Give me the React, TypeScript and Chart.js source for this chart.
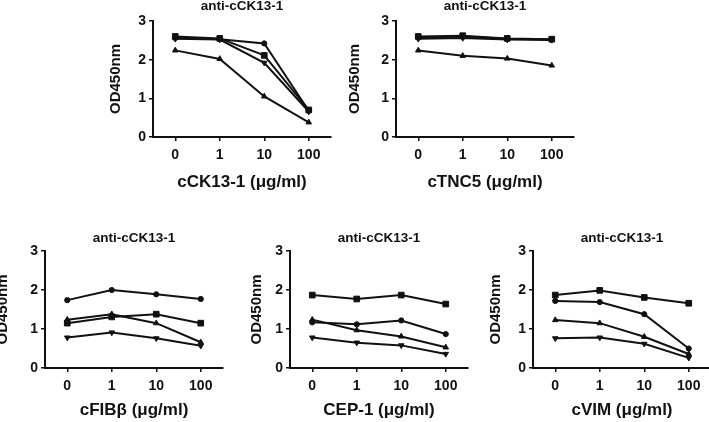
import React, { useEffect, useRef } from "react";
import { Chart, registerables } from "chart.js";
Chart.register(...registerables);

const categories = ["0", "1", "10", "100"];
const panelTitle = "anti-cCK13-1";
const yAxisTitle = "OD450nm";

// Panel 1: cCK13-1
const cck13Square = [2.6, 2.55, 2.11, 0.7];
const cck13Circle = [2.56, 2.53, 2.42, 0.68];
const cck13Down = [2.54, 2.52, 1.92, 0.66];
const cck13Up = [2.24, 2.02, 1.05, 0.38];

// Panel 2: cTNC5
const tnc5Square = [2.6, 2.62, 2.55, 2.53];
const tnc5Circle = [2.57, 2.6, 2.54, 2.52];
const tnc5Down = [2.54, 2.56, 2.52, 2.51];
const tnc5Up = [2.24, 2.1, 2.03, 1.85];

// Panel 3: cFIBβ
const fibCircle = [1.74, 2.0, 1.89, 1.77];
const fibSquare = [1.15, 1.31, 1.38, 1.15];
const fibUp = [1.24, 1.38, 1.15, 0.66];
const fibDown = [0.78, 0.91, 0.76, 0.57];

// Panel 4: CEP-1
const cepSquare = [1.87, 1.77, 1.87, 1.64];
const cepCircle = [1.17, 1.12, 1.22, 0.87];
const cepUp = [1.24, 0.97, 0.81, 0.53];
const cepDown = [0.78, 0.65, 0.58, 0.36];

// Panel 5: cVIM
const vimSquare = [1.87, 1.99, 1.81, 1.66];
const vimCircle = [1.72, 1.69, 1.38, 0.5];
const vimUp = [1.23, 1.15, 0.8, 0.36];
const vimDown = [0.76, 0.78, 0.62, 0.26];

const xTitles = ["cCK13-1 (μg/ml)", "cTNC5 (μg/ml)", "cFIBβ (μg/ml)", "CEP-1 (μg/ml)", "cVIM (μg/ml)"];

type Series = { data: number[]; style: string; rot?: number; r?: number };

const SQ = { style: "rect", r: 4 };
const CI = { style: "circle", r: 2.6 };
const UP = { style: "triangle", r: 3.2 };
const DN = { style: "triangle", r: 3.2, rot: 180 };

const panels = [
  { axisX: 153, chartTop: 21, chartH: 116, W: 46, xH: 56, titleGap: 14.5, xTitle: xTitles[0],
    series: [
      { data: cck13Square, ...SQ },
      { data: cck13Circle, ...CI },
      { data: cck13Down, ...DN },
      { data: cck13Up, ...UP },
    ] as Series[] },
  { axisX: 396, chartTop: 21, chartH: 116, W: 50, xH: 56, titleGap: 14.5, xTitle: xTitles[1],
    series: [
      { data: tnc5Square, ...SQ },
      { data: tnc5Circle, ...CI },
      { data: tnc5Down, ...DN },
      { data: tnc5Up, ...UP },
    ] as Series[] },
  { axisX: 45, chartTop: 251, chartH: 117, W: 51, xH: 53, titleGap: 12.5, xTitle: xTitles[2],
    series: [
      { data: fibCircle, ...CI },
      { data: fibSquare, ...SQ },
      { data: fibUp, ...UP },
      { data: fibDown, ...DN },
    ] as Series[] },
  { axisX: 290, chartTop: 251, chartH: 117, W: 42, xH: 53, titleGap: 12.5, xTitle: xTitles[3],
    series: [
      { data: cepSquare, ...SQ },
      { data: cepCircle, ...CI },
      { data: cepUp, ...UP },
      { data: cepDown, ...DN },
    ] as Series[] },
  { axisX: 533, chartTop: 251, chartH: 117, W: 46, xH: 53, titleGap: 12.5, xTitle: xTitles[4],
    series: [
      { data: vimSquare, ...SQ },
      { data: vimCircle, ...CI },
      { data: vimUp, ...UP },
      { data: vimDown, ...DN },
    ] as Series[] },
];

const CHART_W = 178;
const PAD_R = 12;
const TITLE_SIZE = 13.5;
const INK = "#111";
const FAMILY = "'Liberation Sans', Arial, sans-serif";

function Panel(p: any) {
  const ref = useRef<HTMLCanvasElement>(null);
  const lh = TITLE_SIZE * 1.2;
  const titleBoxH = Math.round(p.titleGap + lh / 2);
  const canvasTop = p.chartTop - titleBoxH;
  const width = p.W + CHART_W + PAD_R;
  const height = titleBoxH + p.chartH + p.xH;
  useEffect(() => {
    const chart = new Chart(ref.current!, {
      type: "line",
      data: {
        labels: categories,
        datasets: p.series.map((s: Series) => ({
          data: s.data,
          borderColor: INK,
          borderWidth: 2,
          pointStyle: s.style,
          pointRotation: s.rot || 0,
          pointRadius: s.r || 3,
          pointBackgroundColor: INK,
          pointBorderColor: INK,
          pointBorderWidth: 1,
          tension: 0,
          clip: false,
        })),
      },
      options: {
        responsive: false,
        animation: false,
        devicePixelRatio: 1,
        layout: { padding: { left: 0, top: 0, bottom: 0, right: PAD_R } },
        plugins: {
          legend: { display: false },
          tooltip: { enabled: false },
          title: {
            display: true,
            text: panelTitle,
            fullSize: false,
            color: INK,
            font: { size: TITLE_SIZE, weight: "bold", family: FAMILY },
            padding: { top: 0, bottom: titleBoxH - lh },
          },
        },
        scales: {
          x: {
            type: "category",
            offset: true,
            grid: { offset: false, drawOnChartArea: false, drawTicks: true, tickLength: 4, color: INK, lineWidth: 1.5 },
            border: { display: true, color: INK, width: 2 },
            ticks: { padding: 6, color: INK, maxRotation: 0, autoSkip: false, font: { size: 14, weight: "bold", family: FAMILY } },
            title: { display: true, text: p.xTitle, color: INK, padding: 0, font: { size: 17, weight: "bold", family: FAMILY } },
            afterFit: (s: any) => { s.height = p.xH; },
          },
          y: {
            min: 0,
            max: 3,
            grid: { drawOnChartArea: false, drawTicks: true, tickLength: 4, color: INK, lineWidth: 1.5 },
            border: { display: true, color: INK, width: 2 },
            ticks: { stepSize: 1, padding: 3, color: INK, font: { size: 14, weight: "bold", family: FAMILY } },
            title: { display: true, text: yAxisTitle, color: INK, padding: 0, font: { size: 15, weight: "bold", family: FAMILY } },
            afterFit: (s: any) => { s.width = p.W; },
          },
        },
      } as any,
    });
    return () => chart.destroy();
  }, []);
  return (
    <canvas
      ref={ref}
      width={width}
      height={height}
      style={{ position: "absolute", left: p.axisX - p.W, top: canvasTop, width, height }}
    />
  );
}

export default function App() {
  return (
    <div style={{ position: "fixed", left: 0, top: 0, width: 709, height: 422, background: "#fff", overflow: "hidden" }}>
      {panels.map((p, i) => (
        <Panel key={i} {...p} />
      ))}
    </div>
  );
}
